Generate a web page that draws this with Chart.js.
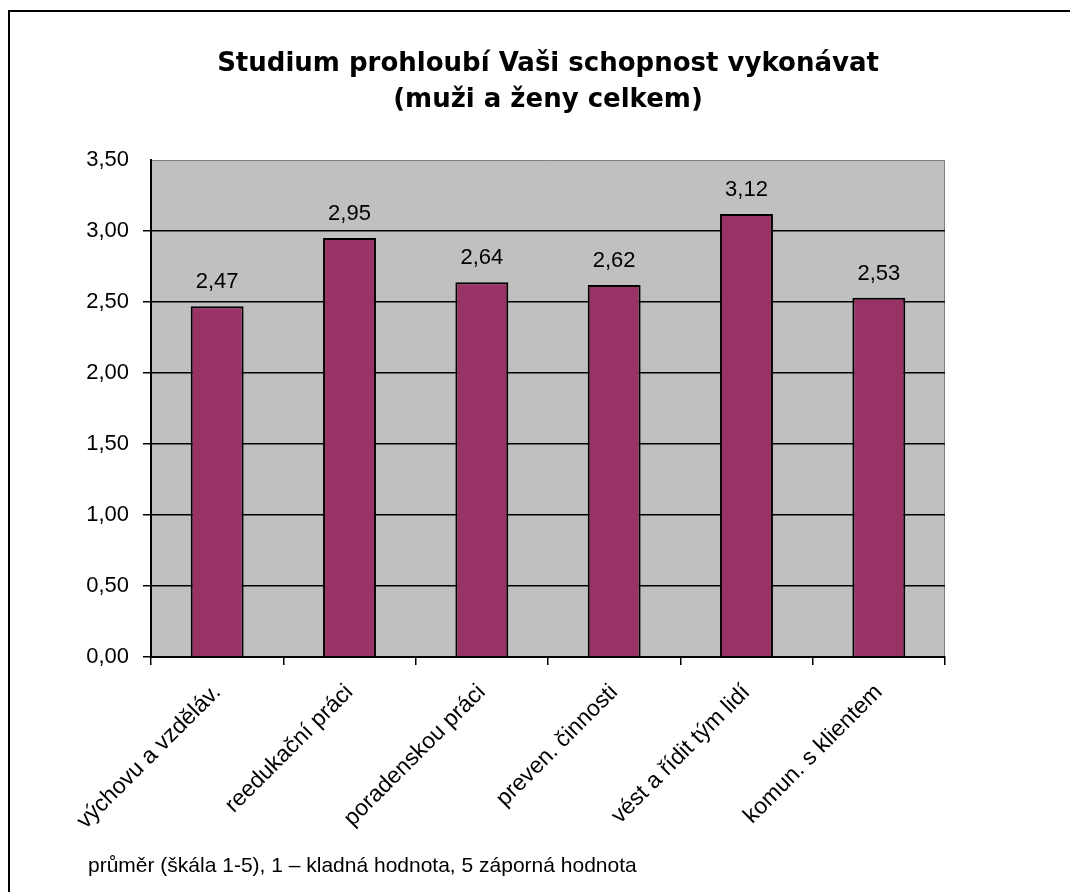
<!DOCTYPE html>
<html>
<head>
<meta charset="utf-8">
<script src="https://cdn.jsdelivr.net/npm/chart.js@4.4.1/dist/chart.umd.min.js"></script>
<style>
  html, body { margin: 0; padding: 0; background: #fff; }
  #wrap { position: relative; width: 1070px; height: 892px; overflow: hidden; }
  #frame { position: absolute; left: 8px; top: 10px; width: 1100px; height: 900px;
           border-top: 2px solid #000; border-left: 2px solid #000; pointer-events: none; }
  #note { position: absolute; left: 88px; top: 853px; font-family: "Liberation Sans", Arial, sans-serif;
          font-size: 21px; color: #000; white-space: nowrap; }
</style>
</head>
<body>
<div id="wrap">
  <canvas id="chart" width="1070" height="892"></canvas>
  <div id="frame"></div>
  <div id="note">průměr (škála 1-5), 1 – kladná hodnota, 5 záporná hodnota</div>
</div>
<script>
const titleLines = ['Studium prohloubí Vaši schopnost vykonávat', '(muži a ženy celkem)'];
const categories = ['výchovu a vzděláv.', 'reedukační práci', 'poradenskou práci', 'preven. činnosti', 'vést a řídit tým lidí', 'komun. s klientem'];
const averages = [2.47, 2.95, 2.64, 2.62, 3.12, 2.53];
const yMin = 0, yMax = 3.5, yStep = 0.5;

const fmt = v => v.toFixed(2).replace('.', ',');

// gray plot area with a thin gray frame on top and right
const plotBackground = {
    id: 'plotBackground',
    beforeDraw(chart) {
        const a = chart.chartArea, c = chart.ctx;
        c.save();
        c.fillStyle = '#C0C0C0';
        c.fillRect(a.left, a.top, a.right - a.left, a.bottom - a.top);
        c.strokeStyle = '#808080';
        c.lineWidth = 1;
        c.beginPath();
        c.moveTo(a.left, a.top + 0.5);
        c.lineTo(a.right - 0.5, a.top + 0.5);
        c.lineTo(a.right - 0.5, a.bottom);
        c.stroke();
        c.restore();
    }
};

// value above every bar
const valueLabels = {
    id: 'valueLabels',
    afterDatasetsDraw(chart) {
        const c = chart.ctx;
        const meta = chart.getDatasetMeta(0);
        c.save();
        c.font = '22px "Liberation Sans", Arial, sans-serif';
        c.fillStyle = '#000';
        c.textAlign = 'center';
        c.textBaseline = 'bottom';
        meta.data.forEach((bar, i) => {
            c.fillText(fmt(chart.data.datasets[0].data[i]), bar.x, bar.y - 13);
        });
        c.restore();
    }
};

const ctx = document.getElementById('chart').getContext('2d');
new Chart(ctx, {
    type: 'bar',
    data: {
        labels: categories,
        datasets: [{
            data: averages,
            backgroundColor: '#993366',
            borderColor: '#000',
            borderWidth: 2,
            categoryPercentage: 1,
            barPercentage: 0.4
        }]
    },
    options: {
        responsive: false,
        animation: false,
        layout: { padding: { left: 26, right: 0, top: 0, bottom: 0 } },
        plugins: {
            legend: { display: false },
            tooltip: { enabled: false },
            title: {
                display: true,
                text: titleLines,
                color: '#000',
                font: { family: '"DejaVu Sans", sans-serif', weight: 'bold', size: 26, lineHeight: 1.385 },
                padding: { top: 46, bottom: 42 }
            }
        },
        scales: {
            x: {
                grid: { offset: true, drawOnChartArea: false, color: '#000', lineWidth: 1.5, tickLength: 8 },
                border: { color: '#000', width: 2 },
                ticks: {
                    color: '#000', minRotation: 45, maxRotation: 45, padding: 14,
                    font: { family: '"Liberation Sans", Arial, sans-serif', size: 23 }
                },
                afterFit(scale) { scale.height = 235; }
            },
            y: {
                min: yMin, max: yMax,
                grid: {
                    color: c => (c.tick && c.tick.value === yMax ? 'rgba(0,0,0,0)' : '#000'),
                    lineWidth: 1.5, tickLength: 8
                },
                border: { color: '#000', width: 2 },
                ticks: {
                    stepSize: yStep, color: '#000', padding: 14,
                    font: { family: '"Liberation Sans", Arial, sans-serif', size: 22 },
                    callback: v => fmt(v)
                },
                afterFit(scale) { scale.width = 125; }
            },
            // empty right axis only reserves the white margin right of the plot
            yRight: {
                position: 'right',
                min: yMin, max: yMax,
                grid: { display: false },
                border: { display: false },
                ticks: { display: false },
                afterFit(scale) { scale.width = 125; }
            }
        }
    },
    plugins: [plotBackground, valueLabels]
});
</script>
</body>
</html>
